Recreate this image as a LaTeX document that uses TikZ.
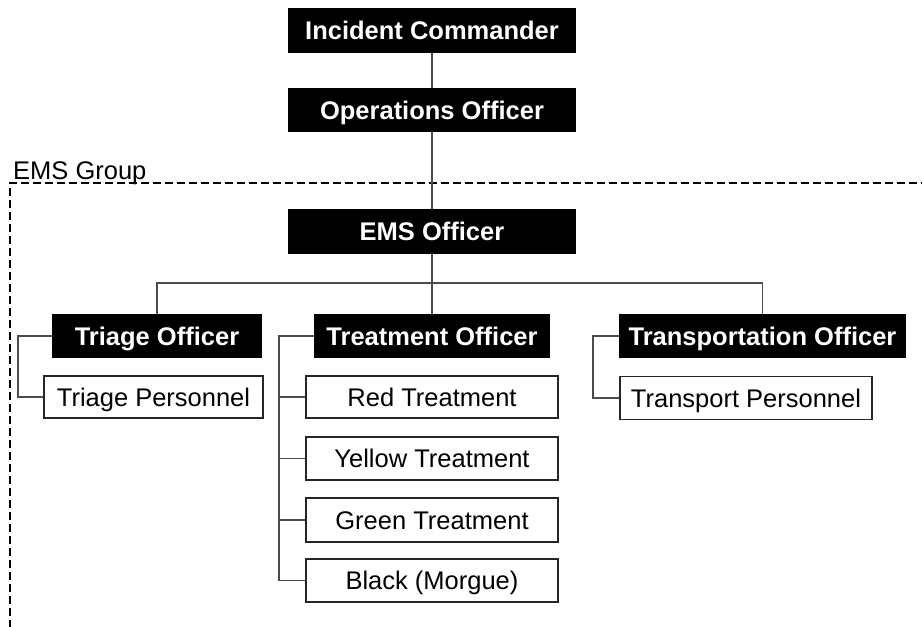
\documentclass[tikz,border=0pt]{standalone}
\usepackage{fontspec}
\setmainfont{Liberation Sans}
\begin{document}
\begin{tikzpicture}[x=1pt,y=-1pt,
  blk/.style={fill=black,text=white,font=\fontsize{25.5}{30}\selectfont\bfseries,inner sep=0pt,text height=18.3pt,text depth=0pt,minimum height=45pt},
  wbox/.style={draw=black!85,line width=1.2pt,fill=white,text=black,font=\fontsize{25.5}{30}\selectfont,inner sep=0pt,text height=18.3pt,text depth=0pt,minimum height=43pt},
  conn/.style={draw=black!70,line width=1.1pt},
  grp/.style={draw=black,line width=1.6pt,dash pattern=on 8pt off 4pt}]
\clip (0,0) rectangle (922,627);
\fill[white] (0,0) rectangle (922,627);
% group frame
\draw[grp] (10,640) -- (10,183) -- (940,183);
\node[anchor=base west,inner sep=0pt,font=\fontsize{25.5}{30}\selectfont] (lbl) at (13,179) {EMS Group};
% nodes
\node[blk,minimum width=288pt] (ic) at (432,30.5) {Incident Commander};
\node[blk,minimum width=288pt,minimum height=44pt] (oo) at (432,110) {Operations Officer};
\node[blk,minimum width=288pt] (ems) at (432,231.5) {EMS Officer};
\node[blk,minimum width=210pt,minimum height=44pt] (to) at (157,336) {Triage Officer};
\node[blk,minimum width=236pt,minimum height=44pt] (tr) at (432,336) {Treatment Officer};
\node[blk,minimum width=287pt,minimum height=44pt] (trn) at (762.5,336) {Transportation Officer};
\node[wbox,minimum width=219pt,minimum height=42pt] (tp) at (153.5,397) {Triage Personnel};
\node[wbox,minimum width=252pt] (tpers) at (746,398) {Transport Personnel};
\node[wbox,minimum width=252pt,minimum height=42pt] (red) at (432,397) {Red Treatment};
\node[wbox,minimum width=252pt] (yel) at (432,458.5) {Yellow Treatment};
\node[wbox,minimum width=252pt,minimum height=44pt] (grn) at (432,520) {Green Treatment};
\node[wbox,minimum width=252pt] (blkm) at (432,580.5) {Black (Morgue)};
% connectors
\coordinate (bar) at (432,283);
\coordinate (tgb) at (18,336);
\coordinate (trb) at (279,336);
\coordinate (tnb) at (593,336);
\draw[conn] (ic.south) -- (oo.north);
\draw[conn] (oo.south) -- (ems.north);
\draw[conn] (ems.south) -- (tr.north);
\draw[conn] (to.north) |- (bar) -| (trn.north);
\draw[conn] (to.west) -- (tgb) |- (tp.west);
\draw[conn] (tr.west) -- (trb) |- (blkm.west);
\draw[conn] (trb) |- (red.west);
\draw[conn] (trb) |- (yel.west);
\draw[conn] (trb) |- (grn.west);
\draw[conn] (trn.west) -- (tnb) |- (tpers.west);
\end{tikzpicture}
\end{document}
